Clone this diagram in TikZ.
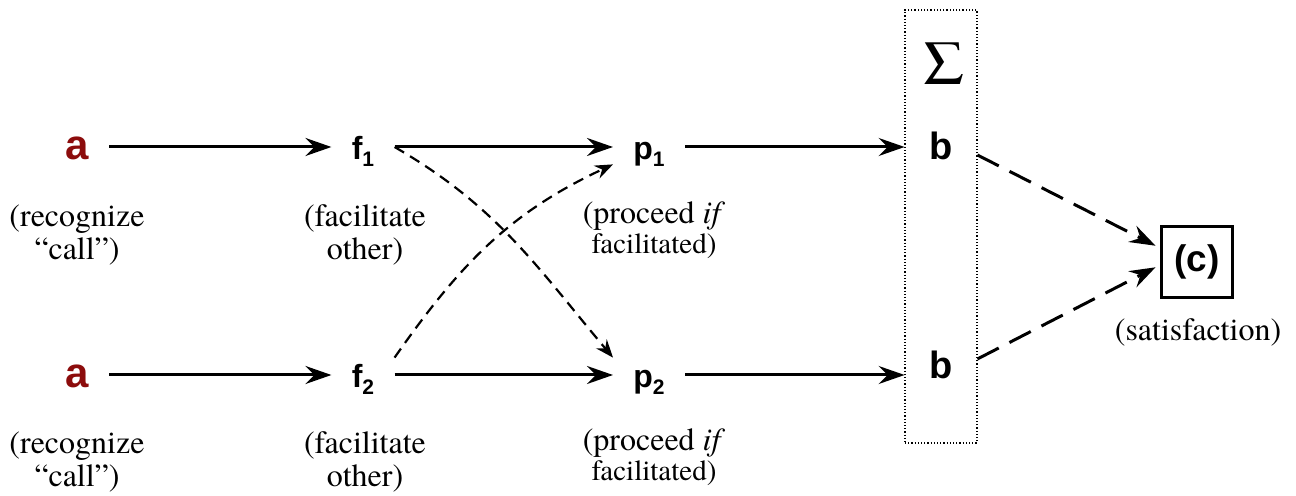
\documentclass[tikz,border=0pt]{standalone}
\usepackage{fontspec}
\IfFontExistsTF{texgyretermes-regular.otf}{%
	\setmainfont{texgyretermes-regular.otf}[ItalicFont=texgyretermes-italic.otf, BoldFont=texgyretermes-bold.otf]}{%
	\setmainfont{DejaVu Serif}}
\setsansfont{Liberation Sans}
\usetikzlibrary{arrows.meta}
\definecolor{callred}{RGB}{140,12,12}

\newcommand{\withsub}[2]{#1\raisebox{-3.5pt}{\fontsize{10.5}{10.5}\selectfont #2}}

\tikzset{
	sym/.style={font=\sffamily\bfseries\fontsize{16}{16}\selectfont, text height=15pt, text depth=2pt, inner xsep=10pt, inner ysep=0pt},
	bigsym/.style={sym, font=\sffamily\bfseries\fontsize{21}{21}\selectfont},
	bsym/.style={sym, font=\sffamily\bfseries\fontsize{19}{19}\selectfont, minimum width=36pt, inner xsep=0pt},
	note/.style={font=\rmfamily\fontsize{16}{16.5}\selectfont, align=center, inner sep=0pt, anchor=north},
	sumbox/.style={draw, densely dotted, line width=0.6pt, minimum width=36pt, minimum height=216.5pt, inner sep=0pt},
	goal/.style={draw, line width=1.5pt, minimum size=35.5pt, inner sep=0pt, font=\sffamily\bfseries\fontsize{18.5}{18.5}\selectfont},
	link/.style={->, >={Stealth[length=13pt, width=9pt, inset=4.5pt]}, line width=1.5pt},
	cross/.style={->, >={Stealth[length=9pt, width=7pt, inset=3pt]}, line width=1.1pt, dash pattern=on 5.5pt off 3.5pt},
	sat/.style={->, >={Stealth[length=13pt, width=9pt, inset=4.5pt]}, line width=1.5pt, dash pattern=on 12pt off 6pt}
}

\begin{document}
\begin{tikzpicture}[x=0.5pt, y=-0.5pt]
	\useasboundingbox (0,0) rectangle (1296,496);
	% two rows: a -> f -> p
	\foreach \i/\y in {1/147, 2/375} {
		\node[bigsym, text=callred] (a\i) at (77,\y) {a};
		\node[sym] (f\i) at (363,\y) {\withsub{f}{\i}};
		\node[sym] (p\i) at (649,\y) {\withsub{p}{\i}};
		\draw[link] (a\i) -- (f\i);
		\draw[link] (f\i) -- (p\i);
	}
	\foreach \i/\y in {1/204, 2/431} {
		\node[note] (rec\i) at (77,\y) {(recognize\\“call”)};
		\node[note] (fac\i) at (365,\y) {(facilitate\\other)};
		\node[note, font=\rmfamily\fontsize{16}{15}\selectfont] (pro\i) at (654,\y-3) {(proceed \textit{if}\\{\fontsize{14.5}{15}\selectfont facilitated)}};
	}
	% sum box
	\node[sumbox] (sum) at (941,226.5) {};
	\node[font=\rmfamily\fontsize{31.5}{32}\selectfont, anchor=base] (sigma) at (944,85) {Σ};
	\node[bsym] (b1) at (941,147) {b};
	\node[bsym] (b2) at (941,366) {b};
	\draw[link] (p1) -- (b1);
	\draw[link] (p2) -- (p2 -| b2.west);
	% facilitation
	\draw[cross] (f1.east) to[out=-30, in=130] (p2.north west);
	\draw[cross] (f2.north east) to[out=55, in=-155] (p1.south west);
	% satisfaction
	\node[goal] (c) at (1197,262) {(c)};
	\node[note] (satnote) at (1198,318) {(satisfaction)};
	\draw[sat, shorten >=2.5pt] ([yshift=-4pt]b1.east) -- ([yshift=7pt]c.west);
	\draw[sat, shorten >=2.5pt] ([yshift=3.5pt]b2.east) -- ([yshift=-1.5pt]c.west);
\end{tikzpicture}
\end{document}
